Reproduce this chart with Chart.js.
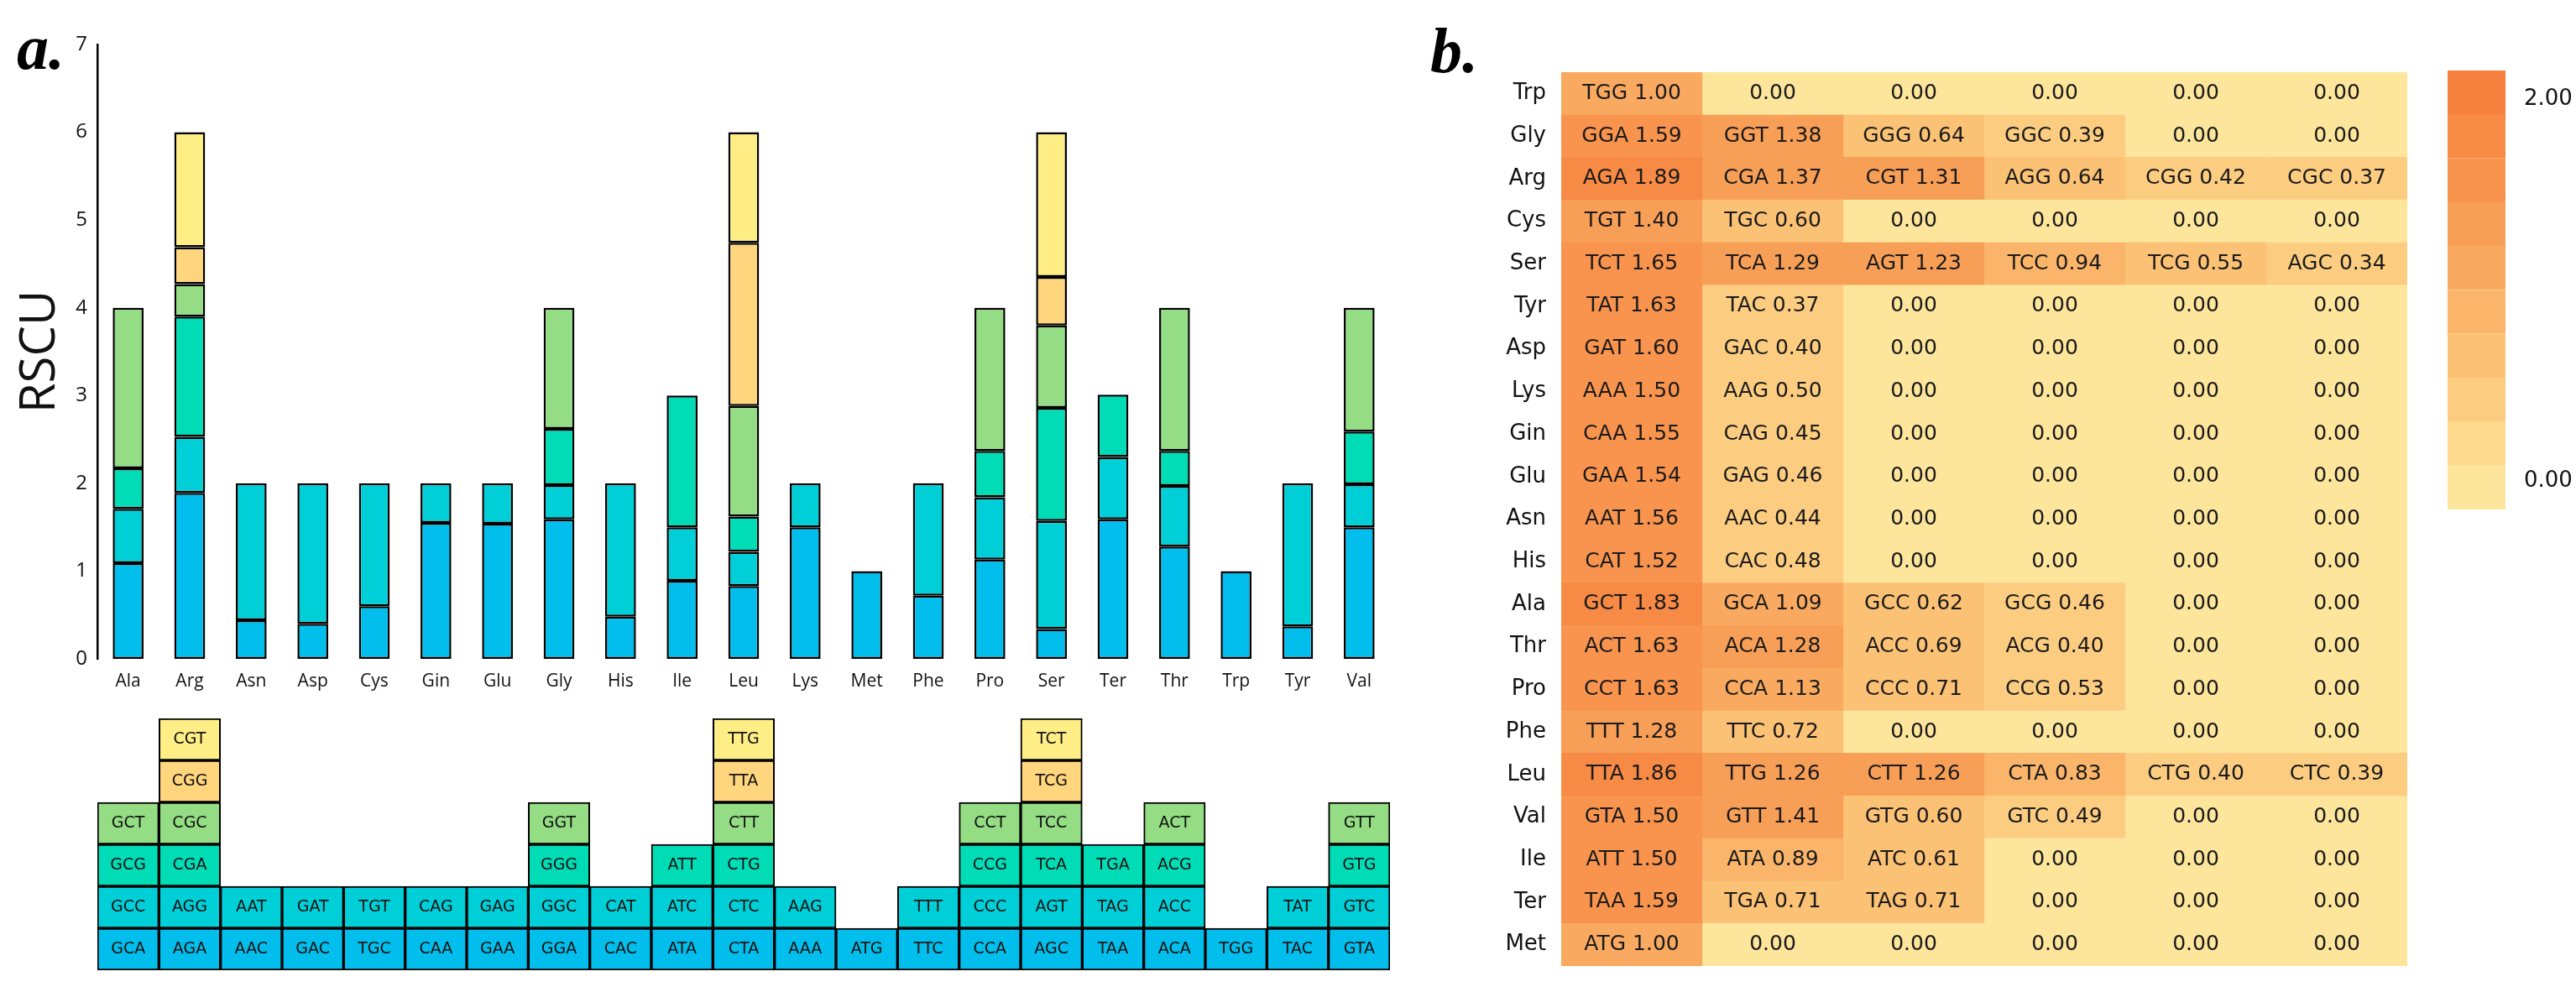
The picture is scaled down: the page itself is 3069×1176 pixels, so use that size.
<!DOCTYPE html>
<html>
<head>
<meta charset="utf-8">
<script src="https://cdn.jsdelivr.net/npm/chart.js@4.4.0/dist/chart.umd.min.js"></script>
<style>
  html, body { margin: 0; padding: 0; background: #fff; width: 3069px; height: 1176px; overflow: hidden; }
  .box { position: absolute; }
  .tag { position: absolute; font-family: "Liberation Serif", serif; font-weight: bold; font-style: italic; font-size: 76px; line-height: 1; color: #000; }
</style>
</head>
<body>
<div class="tag" style="left:20px;top:18px">a.</div>
<div class="tag" style="left:1704px;top:22px">b.</div>
<div class="box" style="left:0;top:0;width:1670px;height:840px"><canvas id="rscuChart"></canvas></div>
<div class="box" style="left:0;top:855px;width:1670px;height:302px"><canvas id="codonGrid"></canvas></div>
<div class="box" style="left:1740px;top:86px;width:1128px;height:1065px"><canvas id="heatChart"></canvas></div>
<div class="box" style="left:2916px;top:84px;width:153px;height:523px"><canvas id="scaleChart"></canvas></div>
<script>
// amino acids of panel a, in axis order
const aminoAcids = ['Ala', 'Arg', 'Asn', 'Asp', 'Cys', 'Gin', 'Glu', 'Gly', 'His', 'Ile', 'Leu',
    'Lys', 'Met', 'Phe', 'Pro', 'Ser', 'Ter', 'Thr', 'Trp', 'Tyr', 'Val'];

// codons of each amino acid, stacked from bottom to top
const codonStacks = [
    ['GCA', 'GCC', 'GCG', 'GCT'],
    ['AGA', 'AGG', 'CGA', 'CGC', 'CGG', 'CGT'],
    ['AAC', 'AAT'],
    ['GAC', 'GAT'],
    ['TGC', 'TGT'],
    ['CAA', 'CAG'],
    ['GAA', 'GAG'],
    ['GGA', 'GGC', 'GGG', 'GGT'],
    ['CAC', 'CAT'],
    ['ATA', 'ATC', 'ATT'],
    ['CTA', 'CTC', 'CTG', 'CTT', 'TTA', 'TTG'],
    ['AAA', 'AAG'],
    ['ATG'],
    ['TTC', 'TTT'],
    ['CCA', 'CCC', 'CCG', 'CCT'],
    ['AGC', 'AGT', 'TCA', 'TCC', 'TCG', 'TCT'],
    ['TAA', 'TAG', 'TGA'],
    ['ACA', 'ACC', 'ACG', 'ACT'],
    ['TGG'],
    ['TAC', 'TAT'],
    ['GTA', 'GTC', 'GTG', 'GTT']
];

// panel b rows, codons and RSCU values (sorted high to low in each row)
const heatRows = ['Trp', 'Gly', 'Arg', 'Cys', 'Ser', 'Tyr', 'Asp', 'Lys', 'Gin', 'Glu', 'Asn',
    'His', 'Ala', 'Thr', 'Pro', 'Phe', 'Leu', 'Val', 'Ile', 'Ter', 'Met'];
const heatCodons = [
    ['TGG'],
    ['GGA', 'GGT', 'GGG', 'GGC'],
    ['AGA', 'CGA', 'CGT', 'AGG', 'CGG', 'CGC'],
    ['TGT', 'TGC'],
    ['TCT', 'TCA', 'AGT', 'TCC', 'TCG', 'AGC'],
    ['TAT', 'TAC'],
    ['GAT', 'GAC'],
    ['AAA', 'AAG'],
    ['CAA', 'CAG'],
    ['GAA', 'GAG'],
    ['AAT', 'AAC'],
    ['CAT', 'CAC'],
    ['GCT', 'GCA', 'GCC', 'GCG'],
    ['ACT', 'ACA', 'ACC', 'ACG'],
    ['CCT', 'CCA', 'CCC', 'CCG'],
    ['TTT', 'TTC'],
    ['TTA', 'TTG', 'CTT', 'CTA', 'CTG', 'CTC'],
    ['GTA', 'GTT', 'GTG', 'GTC'],
    ['ATT', 'ATA', 'ATC'],
    ['TAA', 'TGA', 'TAG'],
    ['ATG']
];
const heatValues = [
    [1.00],
    [1.59, 1.38, 0.64, 0.39],
    [1.89, 1.37, 1.31, 0.64, 0.42, 0.37],
    [1.40, 0.60],
    [1.65, 1.29, 1.23, 0.94, 0.55, 0.34],
    [1.63, 0.37],
    [1.60, 0.40],
    [1.50, 0.50],
    [1.55, 0.45],
    [1.54, 0.46],
    [1.56, 0.44],
    [1.52, 0.48],
    [1.83, 1.09, 0.62, 0.46],
    [1.63, 1.28, 0.69, 0.40],
    [1.63, 1.13, 0.71, 0.53],
    [1.28, 0.72],
    [1.86, 1.26, 1.26, 0.83, 0.40, 0.39],
    [1.50, 1.41, 0.60, 0.49],
    [1.50, 0.89, 0.61],
    [1.59, 0.71, 0.71],
    [1.00]
];
const yTicksA = [0, 1, 2, 3, 4, 5, 6, 7];
const scaleTicks = [0, 2];

// colours
const levelColors = ['#02BEEC', '#00CFD8', '#00DCB6', '#94DD84', '#FFD57E', '#FFEE86'];
const heatPalette = ['#FDE59C', '#FDD98E', '#FCCD81', '#FBC175', '#FAB56A', '#F9AA60',
    '#F89F57', '#F8944E', '#F78A45', '#F6803D'];
const scaleMin = -0.15, scaleMax = 2.15;

const rscuByCodon = {};
heatCodons.forEach((row, i) => row.forEach((c, j) => { rscuByCodon[c] = heatValues[i][j]; }));

function heatColor(v) {
    const step = (scaleMax - scaleMin) / heatPalette.length;
    let k = Math.floor((v - scaleMin) / step);
    k = Math.max(0, Math.min(heatPalette.length - 1, k));
    return heatPalette[k];
}

// keep tick labels from pushing the plot area inwards
function noEdgePadding(s) {
    s.paddingTop = 0;
    s.paddingBottom = 0;
}

Chart.defaults.animation = false;
Chart.defaults.responsive = true;
Chart.defaults.maintainAspectRatio = false;
Chart.defaults.plugins.legend.display = false;
Chart.defaults.plugins.tooltip.enabled = false;
Chart.defaults.color = '#111';

// ---------- panel a: stacked RSCU bars ----------
const rscuDatasets = levelColors.map((col, k) => ({
    data: codonStacks.map(st => st[k] ? rscuByCodon[st[k]] : null),
    backgroundColor: col,
    borderColor: '#000',
    borderWidth: 2.5,
    borderSkipped: false,
    categoryPercentage: 1,
    barPercentage: 0.5
}));

new Chart(document.getElementById('rscuChart'), {
    type: 'bar',
    data: { labels: aminoAcids, datasets: rscuDatasets },
    options: {
        layout: { padding: { top: 53, right: 14, left: 0, bottom: 0 } },
        scales: {
            x: {
                stacked: true,
                grid: { display: false, drawTicks: false },
                border: { display: false },
                ticks: { font: { family: 'Open Sans', size: 21 }, padding: 14, maxRotation: 0, autoSkip: false },
                afterFit: s => { s.height = 55; }
            },
            y: {
                stacked: true,
                min: 0, max: 7,
                afterBuildTicks: s => { s.ticks = yTicksA.map(v => ({ value: v })); },
                grid: { display: false, drawTicks: false },
                border: { display: true, color: '#000', width: 2.5 },
                ticks: { font: { family: 'Open Sans', size: 24 }, padding: 12 },
                title: { display: true, text: 'RSCU', font: { family: 'Open Sans', size: 58 }, padding: { top: 14, bottom: 0 } },
                afterFit: s => { s.width = 116; }
            }
        }
    }
});

// ---------- panel a: codon boxes ----------
const codonText = {
    id: 'codonText',
    afterDatasetsDraw(chart) {
        const ctx = chart.ctx;
        ctx.save();
        ctx.font = '19px "DejaVu Sans"';
        ctx.fillStyle = '#111';
        ctx.textAlign = 'center';
        ctx.textBaseline = 'middle';
        chart.data.datasets.forEach((ds, k) => {
            chart.getDatasetMeta(k).data.forEach((bar, i) => {
                const c = codonStacks[i][k];
                if (!c) return;
                ctx.fillText(c, bar.x, (bar.y + bar.base) / 2);
            });
        });
        ctx.restore();
    }
};

const gridDatasets = levelColors.map((col, k) => ({
    data: codonStacks.map(st => st[k] ? 1 : null),
    backgroundColor: col,
    borderColor: '#000',
    borderWidth: 2,
    borderSkipped: false,
    categoryPercentage: 1,
    barPercentage: 1
}));

new Chart(document.getElementById('codonGrid'), {
    type: 'bar',
    data: { labels: aminoAcids, datasets: gridDatasets },
    options: {
        layout: { padding: { top: 1, right: 14, left: 116, bottom: 1 } },
        scales: {
            x: { stacked: true, display: false },
            y: { stacked: true, display: false, min: 0, max: 6 }
        }
    },
    plugins: [codonText]
});

// ---------- panel b: heat map ----------
const heatText = {
    id: 'heatText',
    afterDatasetsDraw(chart) {
        const ctx = chart.ctx;
        ctx.save();
        ctx.font = '25px "DejaVu Sans"';
        ctx.fillStyle = '#1a1a1a';
        ctx.textAlign = 'center';
        ctx.textBaseline = 'middle';
        chart.data.datasets.forEach((ds, col) => {
            chart.getDatasetMeta(col).data.forEach((bar, row) => {
                const c = heatCodons[row][col];
                const txt = c ? c + ' ' + heatValues[row][col].toFixed(2) : '0.00';
                ctx.fillText(txt, (bar.x + bar.base) / 2, bar.y);
            });
        });
        ctx.restore();
    }
};

const heatDatasets = [0, 1, 2, 3, 4, 5].map(col => {
    const colors = heatRows.map((r, i) => heatColor(heatValues[i][col] || 0));
    return {
        data: heatRows.map(() => [col, col + 1]),
        backgroundColor: colors,
        borderColor: colors,
        borderWidth: 1,
        grouped: false,
        categoryPercentage: 1,
        barPercentage: 1
    };
});

new Chart(document.getElementById('heatChart'), {
    type: 'bar',
    data: { labels: heatRows, datasets: heatDatasets },
    options: {
        indexAxis: 'y',
        layout: { padding: 0 },
        scales: {
            x: { display: false, min: 0, max: 6 },
            y: {
                grid: { display: false, drawTicks: false },
                border: { display: false },
                ticks: { font: { family: 'DejaVu Sans', size: 26 }, padding: 18 },
                afterFit: s => { s.width = 120; noEdgePadding(s); }
            }
        }
    },
    plugins: [heatText]
});

// ---------- panel b: colour scale ----------
const bandStep = (scaleMax - scaleMin) / heatPalette.length;
const scaleDatasets = heatPalette.map((col, k) => ({
    data: [[scaleMin + k * bandStep, scaleMin + (k + 1) * bandStep]],
    backgroundColor: col,
    borderColor: col,
    borderWidth: 1,
    grouped: false,
    categoryPercentage: 1,
    barPercentage: 1
}));

new Chart(document.getElementById('scaleChart'), {
    type: 'bar',
    data: { labels: [''], datasets: scaleDatasets },
    options: {
        layout: { padding: 0 },
        scales: {
            x: { display: false },
            y: {
                position: 'right',
                min: scaleMin, max: scaleMax,
                afterBuildTicks: s => { s.ticks = scaleTicks.map(v => ({ value: v })); },
                grid: { display: false, drawTicks: false },
                border: { display: false },
                ticks: { font: { family: 'DejaVu Sans', size: 26 }, padding: 22, callback: v => Number(v).toFixed(2) },
                afterFit: s => { s.width = 84; noEdgePadding(s); }
            }
        }
    }
});
</script>
</body>
</html>
